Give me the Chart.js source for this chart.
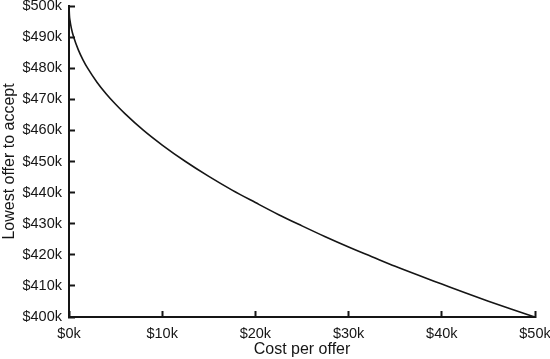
<!DOCTYPE html>
<html lang="en">
<head>
    <meta charset="UTF-8">
    <title>Lowest offer to accept vs cost per offer</title>
    <script src="https://cdn.jsdelivr.net/npm/chart.js"></script>
    <style>
        body { margin: 0; background: #fff; }
        #chartBox { width: 550px; height: 359px; }
    </style>
</head>
<body>
    <div id="chartBox">
        <canvas id="offerChart" width="550" height="359"></canvas>
    </div>
    <script>
        // cost per offer ($k) and lowest offer to accept ($k)
        const costPerOffer = [0, 0.05, 0.1, 0.25, 0.5, 1, 1.5, 2, 3, 4, 5, 6, 8, 10, 12.5, 15, 17.5, 20, 22.5, 25, 27.5, 30, 32.5, 35, 37.5, 40, 42.5, 45, 47.5, 50];
        const lowestOffer = [500, 496.8, 495.5, 492.9, 490, 485.9, 482.7, 480, 475.5, 471.7, 468.4, 465.4, 460, 455.3, 450, 445.2, 440.8, 436.8, 432.9, 429.3, 425.8, 422.5, 419.4, 416.3, 413.4, 410.6, 407.8, 405.1, 402.5, 400];

        const xTickLabels = ['$0k', '$10k', '$20k', '$30k', '$40k', '$50k'];
        const yTickLabels = ['$400k', '$410k', '$420k', '$430k', '$440k', '$450k', '$460k', '$470k', '$480k', '$490k', '$500k'];

        const ink = '#151515';
        const fontFamily = "'Liberation Sans', Arial, Helvetica, sans-serif";

        const points = costPerOffer.map((c, i) => ({ x: c, y: lowestOffer[i] }));

        // negative tickLength makes the tick marks point into the plot
        const axisGrid = {
            display: true,
            drawOnChartArea: false,
            drawTicks: true,
            tickLength: -6,
            tickWidth: 2,
            tickColor: ink,
            color: ink
        };

        new Chart(document.getElementById('offerChart'), {
            type: 'line',
            data: {
                datasets: [{
                    data: points,
                    borderColor: ink,
                    borderWidth: 1.6,
                    pointRadius: 0,
                    fill: false,
                    cubicInterpolationMode: 'monotone'
                }]
            },
            options: {
                responsive: false,
                animation: false,
                layout: { padding: { top: 6, right: 15, left: 0, bottom: 0 } },
                plugins: {
                    legend: { display: false },
                    tooltip: { enabled: false }
                },
                scales: {
                    x: {
                        type: 'linear',
                        min: 0,
                        max: 50,
                        grid: axisGrid,
                        border: { display: true, width: 2, color: ink },
                        ticks: {
                            stepSize: 10,
                            padding: 14,
                            color: ink,
                            maxRotation: 0,
                            font: { family: fontFamily, size: 14.5 },
                            callback: (v, i) => xTickLabels[i]
                        },
                        title: {
                            display: true,
                            text: 'Cost per offer',
                            color: ink,
                            padding: { top: 0, bottom: 0 },
                            font: { family: fontFamily, size: 16 }
                        },
                        afterFit: s => { s.height = 42; s.paddingLeft = 0; s.paddingRight = 15; }
                    },
                    y: {
                        min: 400,
                        max: 500,
                        grid: axisGrid,
                        border: { display: true, width: 2, color: ink },
                        ticks: {
                            stepSize: 10,
                            padding: 13,
                            color: ink,
                            font: { family: fontFamily, size: 14.5 },
                            callback: (v, i) => yTickLabels[i]
                        },
                        title: {
                            display: true,
                            text: 'Lowest offer to accept',
                            color: ink,
                            padding: { top: 0, bottom: 0 },
                            font: { family: fontFamily, size: 16 }
                        },
                        afterFit: s => { s.width = 69; s.paddingTop = 6; s.paddingBottom = 0; }
                    }
                }
            }
        });
    </script>
</body>
</html>
